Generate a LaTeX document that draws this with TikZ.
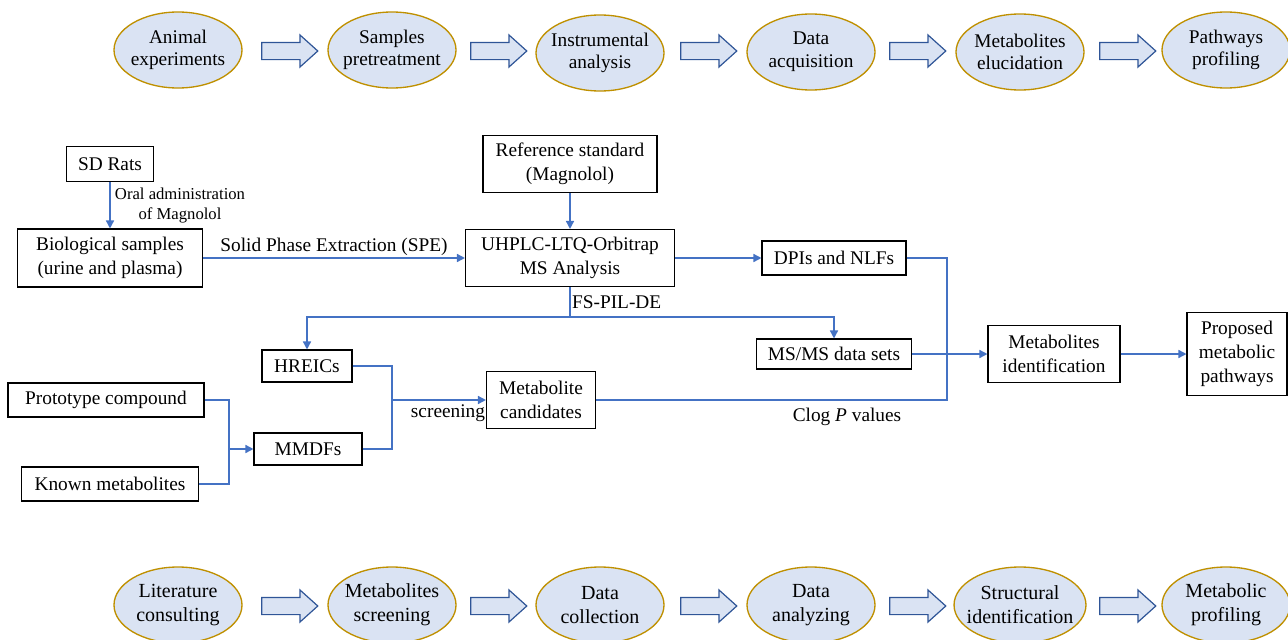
\documentclass[tikz,border=0pt]{standalone}
\usepackage{fontspec}
\setmainfont{Liberation Serif}
\usetikzlibrary{shapes.geometric,shapes.arrows,arrows.meta}

\definecolor{ovalfill}{RGB}{218,227,243}
\definecolor{ovalline}{RGB}{191,144,0}
\definecolor{flowblue}{RGB}{68,114,196}
\definecolor{arrowline}{RGB}{47,85,151}

\tikzset{every picture/.style={line width=0.75pt}}
\tikzset{
  stage/.style={ellipse, draw=ovalline, fill=ovalfill, line width=1pt, minimum width=96pt, minimum height=57pt, inner xsep=-4pt, inner ysep=0pt, align=center, font=\fontsize{14.5}{17}\selectfont},
  stagetwo/.style={stage, inner xsep=-5pt, font=\fontsize{15}{18}\selectfont},
  fatarrow/.style={single arrow, draw=arrowline, fill=ovalfill, line width=0.9pt, minimum height=42pt, inner xsep=0pt, inner ysep=6pt, single arrow head extend=5.5pt, single arrow head indent=0pt, single arrow tip angle=84},
  box/.style={draw, rectangle, line width=0.8pt, inner sep=0pt, align=center, font=\fontsize{14.5}{18}\selectfont},
  sz/.style 2 args={minimum width=#1*0.75pt, minimum height=#2*0.75pt},
  flow/.style={draw=flowblue, line width=1.1pt, -{Triangle[length=6pt,width=6pt]}},
  link/.style={draw=flowblue, line width=1.1pt},
  lbl/.style={inner sep=1pt, align=center, font=\fontsize{14.5}{18}\selectfont},
}

\begin{document}
\begin{tikzpicture}[x=0.75pt,y=0.75pt,yscale=-1,xscale=1]
	\useasboundingbox (0,0) rectangle (1288,639);

	%Top row: study steps
	\node[stage] (a1) at (178,50) {Animal\\experiments};
	\node[stage] (a2) at (392,50) {Samples\\pretreatment};
	\node[stage] (a3) at (600,53) {Instrumental\\analysis};
	\node[stage] (a4) at (811,52) {Data\\acquisition};
	\node[stage] (a5) at (1020,52) {Metabolites\\elucidation};
	\node[stage] (a6) at (1226,50) {Pathways\\profiling};
	\foreach \x/\n in {285/1,494/2,704/3,913/4,1123/5}
		\node[fatarrow] (ta\n) at (\x,51) {};

	%Middle: workflow boxes
	\node[box, sz={87}{35}] (rats) at (110,164) {SD Rats};
	\node[box, sz={185}{58}] (bio) at (110,258) {Biological samples\\(urine and plasma)};
	\node[box, sz={174}{57}] (refstd) at (570,164) {Reference standard\\(Magnolol)};
	\node[box, sz={209}{57}] (uhplc) at (570,258) {UHPLC-LTQ-Orbitrap\\MS Analysis};
	\node[box, sz={144}{34}] (dpi) at (834,258) {DPIs and NLFs};
	\node[box, sz={155}{30}] (msms) at (834,354) {MS/MS data sets};
	\node[box, sz={132}{57}] (ident) at (1054,354) {Metabolites\\identification};
	\node[box, sz={100}{83}] (path) at (1237,354) {Proposed\\metabolic\\pathways};
	\node[box, sz={90}{32}] (hreic) at (307,366) {HREICs};
	\node[box, sz={108}{32}] (mmdf) at (308,449) {MMDFs};
	\node[box, sz={196}{34}] (proto) at (106,400) {Prototype compound};
	\node[box, sz={177}{34}] (known) at (110,484) {Known metabolites};
	\node[box, sz={109}{57}] (cand) at (541,400) {Metabolite\\candidates};

	% Junction points
	\coordinate (fs) at (570,317);
	\coordinate (cj) at (947,400);
	\coordinate (pk) at (229,449);
	\coordinate (hm) at (392,400);

	% Connectors
	\draw[flow] (rats) -- (bio);
	\draw[flow] (bio) -- node[lbl, above] {Solid Phase Extraction (SPE)} (uhplc);
	\draw[flow] (refstd) -- (uhplc);
	\draw[flow] (uhplc) -- (dpi);
	\draw[link] (uhplc) -- node[lbl, right] {FS-PIL-DE} (fs);
	\draw[flow] (fs) -| (hreic);
	\draw[flow] (fs) -| (msms);
	\draw[link] (dpi) -| (cj) -- (cand);
	\draw[flow] (msms) -- (ident);
	\draw[flow] (ident) -- (path);
	\draw[link] (proto) -| (pk);
	\draw[link] (known) -| (pk);
	\draw[flow] (pk) -- (mmdf);
	\draw[link] (hreic) -| (hm);
	\draw[link] (mmdf) -| (hm);
	\draw[flow] (hm) -- (cand);

	% Text Node
	\node[lbl, font=\fontsize{12.5}{15}\selectfont] (oral) at (180,206) {Oral administration\\of Magnolol};
	% Text Node
	\node[lbl] (scr) at (448,413) {screening};
	% Text Node
	\node[lbl] (clogp) at (847,417) {Clog \textit{P} values};

	%Bottom row: method steps
	\node[stagetwo] (b1) at (178,605) {Literature\\consulting};
	\node[stagetwo] (b2) at (392,605) {Metabolites\\screening};
	\node[stagetwo] (b3) at (600,605) {Data\\collection};
	\node[stagetwo] (b4) at (811,605) {Data\\analyzing};
	\node[stagetwo] (b5) at (1020,605) {Structural\\identification};
	\node[stagetwo] (b6) at (1226,605) {Metabolic\\profiling};
	\foreach \x/\n in {285/1,494/2,704/3,913/4,1123/5}
		\node[fatarrow] (ba\n) at (\x,606) {};

\end{tikzpicture}
\end{document}
